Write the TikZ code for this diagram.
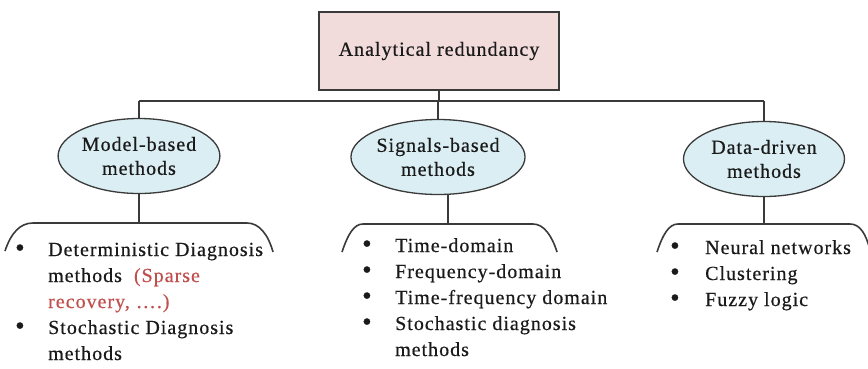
\documentclass[tikz,border=0pt]{standalone}
\usepackage{graphicx}
\usepackage{fontspec}
\setmainfont{Liberation Serif}[LetterSpace=5,FakeBold=0.5]
\usetikzlibrary{shapes.geometric}
\definecolor{boxfill}{HTML}{F2DCDB}
\definecolor{ovalfill}{HTML}{DAEEF3}
\definecolor{linegray}{HTML}{3A3A3A}
\definecolor{notered}{HTML}{C0504D}
\definecolor{ink}{HTML}{1A1A1A}
\newcommand{\bl}[1]{\makebox[#1][l]{\raisebox{-0.5pt}{\scalebox{1.35}{\textbullet}}}}
\newcommand{\cont}[1]{\hspace*{#1}}

\begin{document}
\begin{tikzpicture}[x=1pt,y=-1pt,
  every node/.style={text=ink},
  conn/.style={draw=linegray,line width=1.6pt},
  rootbox/.style={draw=linegray,line width=1.3pt,fill=boxfill,minimum width=240pt,
    minimum height=78pt,inner sep=0pt,font=\fontsize{20}{24}\selectfont},
  oval/.style={ellipse,draw=linegray,line width=1.3pt,fill=ovalfill,minimum width=161pt,
    minimum height=75pt,inner sep=0pt,align=center,font=\fontsize{20}{24}\selectfont},
  listtext/.style={anchor=base west,inner sep=0pt,font=\fontsize{20}{26}\selectfont}]
\useasboundingbox (0,0) rectangle (868,368);
\clip (0,0) rectangle (868,368);

% root and the three method families
\node[rootbox] (root) at (439,51) {Analytical redundancy};
\node[oval] (mb) at (139,156) {Model-based\\methods};
\node[oval] (sb) at (438,157) {Signals-based\\methods};
\node[oval] (dd) at (764,159) {Data-driven\\methods};

% branching bar
\coordinate (bar) at (0,101);
\draw[conn] (root.south) -- (root.south |- bar);
\draw[conn] (mb.north |- bar) -- (dd.north |- bar);
\draw[conn] (mb.north |- bar) -- (mb.north);
\draw[conn] (sb.north |- bar) -- (sb.north);
\draw[conn] (dd.north |- bar) -- (dd.north);

% trays holding the method lists
\coordinate (mbtray) at (139,223);
\coordinate (sbtray) at (448,224);
\coordinate (ddtray) at (764,224);
\draw[conn] (mb.south) -- (mbtray);
\draw[conn] (sbtray |- sb.south) -- (sbtray);
\draw[conn] (dd.south) -- (ddtray);

\draw[conn] (5,251) .. controls (11,233) and (20,223) .. (33,223) -- (mbtray) -- (247,223)
  .. controls (259,223) and (268,234) .. (273,252);
\draw[conn] (342,252) .. controls (348,234) and (354,224) .. (363,224) -- (sbtray) -- (533,224)
  .. controls (544,224) and (552,236) .. (557,252);
\draw[conn] (657,252) .. controls (663,234) and (669,224) .. (678,224) -- (ddtray) -- (850,224)
  .. controls (860,224) and (866,234) .. (870,250);

% lists
\node[listtext] (mblist) at (15,256) {\begin{tabular}[t]{@{}l@{}}
  \bl{33pt}Deterministic Diagnosis\\
  \cont{33pt}methods\ \ \textcolor{notered}{(Sparse}\\
  \cont{33pt}\textcolor{notered}{recovery, ….)}\\
  \bl{33pt}Stochastic Diagnosis\\
  \cont{33pt}methods
\end{tabular}};
\node[listtext] (sblist) at (362,252) {\begin{tabular}[t]{@{}l@{}}
  \bl{33pt}Time-domain\\
  \bl{33pt}Frequency-domain\\
  \bl{33pt}Time-frequency domain\\
  \bl{33pt}Stochastic diagnosis\\
  \cont{33pt}methods
\end{tabular}};
\node[listtext] (ddlist) at (670,254) {\begin{tabular}[t]{@{}l@{}}
  \bl{35pt}Neural networks\\
  \bl{35pt}Clustering\\
  \bl{35pt}Fuzzy logic
\end{tabular}};
\end{tikzpicture}
\end{document}
